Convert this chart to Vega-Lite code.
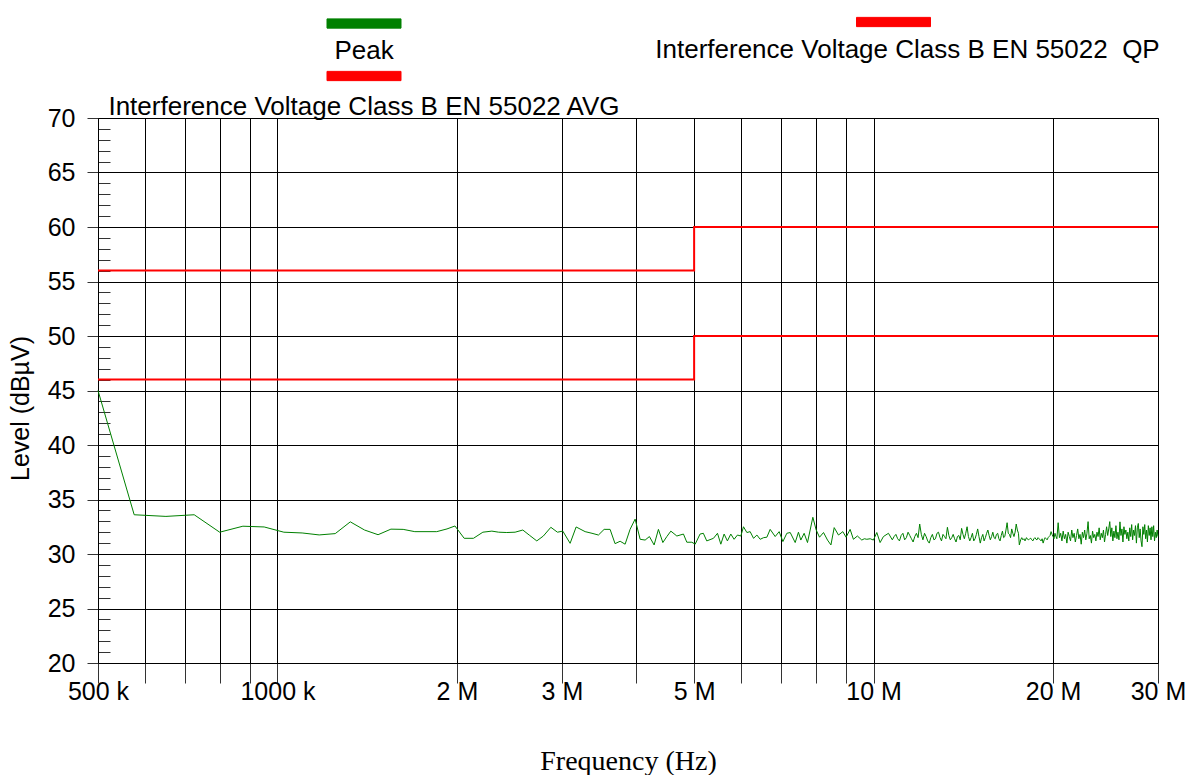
{
  "$schema": "https://vega.github.io/schema/vega-lite/v6.json",
  "width": 1060,
  "height": 545,
  "autosize": {"type": "none"},
  "padding": {"left": 98, "top": 118, "right": 34, "bottom": 112},
  "background": "white",
  "config": {
    "view": {"stroke": "black", "strokeWidth": 1},
    "font": "Liberation Sans",
    "axis": {"domainColor": "black", "labelColor": "black", "titleColor": "black", "labelFont": "Liberation Sans", "labelFontSize": 25, "titleFontWeight": "normal", "gridColor": "black", "gridWidth": 1, "tickColor": "#333", "tickWidth": 1}
  },
  "datasets": {
    "peak": [
      {"f":500,"dB":45.0},{"f":575,"dB":33.6},{"f":650,"dB":33.45},{"f":725,"dB":33.6},{"f":800,"dB":32.0},{"f":875,"dB":32.55},{"f":950,"dB":32.48},{"f":1025,"dB":32.0},{"f":1100,"dB":31.93},{"f":1175,"dB":31.75},{"f":1250,"dB":31.87},{"f":1325,"dB":32.95},{"f":1400,"dB":32.2},{"f":1475,"dB":31.77},{"f":1550,"dB":32.28},{"f":1625,"dB":32.26},{"f":1700,"dB":32.05},{"f":1775,"dB":32.05},{"f":1850,"dB":32.05},{"f":1925,"dB":32.3},{"f":1985,"dB":32.57},
      {"f":2057,"dB":31.44},{"f":2132,"dB":31.44},{"f":2211,"dB":32.0},{"f":2289,"dB":32.1},{"f":2350,"dB":32.0},{"f":2425,"dB":31.97},{"f":2504,"dB":32.0},{"f":2580,"dB":32.2},{"f":2650,"dB":31.7},{"f":2723,"dB":31.2},{"f":2793,"dB":31.65},{"f":2875,"dB":32.45},{"f":2949,"dB":32.0},{"f":3011,"dB":32.1},{"f":3097,"dB":30.98},{"f":3170,"dB":32.48},{"f":3282,"dB":32.05},{"f":3370,"dB":31.9},{"f":3455,"dB":31.74},{"f":3532,"dB":32.26},{"f":3614,"dB":32.26},{"f":3684,"dB":30.95},{"f":3757,"dB":31.17},{"f":3830,"dB":30.9},{"f":3904,"dB":32.26},{"f":3981,"dB":33.2},{"f":4059,"dB":31.35},{"f":4138,"dB":31.28},{"f":4207,"dB":31.6},{"f":4284,"dB":30.83},{"f":4356,"dB":32.26},{"f":4431,"dB":31.05},{"f":4500,"dB":31.6},{"f":4570,"dB":32.1},{"f":4677,"dB":31.65},{"f":4798,"dB":31.83},{"f":4861,"dB":31.08},{"f":4956,"dB":31.08},{"f":5020,"dB":30.9},{"f":5116,"dB":31.83},{"f":5181,"dB":31.9},{"f":5250,"dB":31.2},{"f":5388,"dB":31.44},{"f":5472,"dB":31.9},{"f":5543,"dB":30.9},{"f":5614,"dB":31.83},{"f":5686,"dB":31.2},{"f":5761,"dB":31.83},{"f":5835,"dB":31.35},{"f":5911,"dB":31.74},{"f":5989,"dB":31.65},{"f":6050,"dB":32.5},{"f":6130,"dB":31.97},{"f":6208,"dB":32.05},{"f":6290,"dB":31.44},{"f":6372,"dB":31.74},{"f":6453,"dB":31.35},{"f":6540,"dB":31.5},{"f":6622,"dB":31.54},{"f":6707,"dB":32.26},{"f":6838,"dB":31.6},{"f":6944,"dB":32.05},{"f":7045,"dB":31.14},{"f":7153,"dB":31.9},{"f":7247,"dB":31.97},{"f":7388,"dB":31.05},{"f":7481,"dB":32.0},{"f":7550,"dB":31.28},{"f":7648,"dB":31.9},{"f":7747,"dB":31.05},{"f":7909,"dB":33.37},{"f":8012,"dB":32.2},{"f":8115,"dB":31.54},{"f":8242,"dB":31.97},{"f":8370,"dB":31.28},{"f":8481,"dB":30.83},{"f":8589,"dB":32.42},{"f":8732,"dB":31.74},{"f":8880,"dB":32.05},{"f":8993,"dB":31.54},{"f":9134,"dB":32.26},{"f":9251,"dB":31.35},{"f":9394,"dB":31.65},{"f":9555,"dB":31.28},{"f":9650,"dB":31.4},{"f":9742,"dB":31.35},{"f":9870,"dB":31.4},{"f":9993,"dB":31.28},{"f":10125,"dB":31.97},{"f":10255,"dB":31.05},{"f":10388,"dB":31.6},{"f":10592,"dB":31.9},
      {"f":10750,"dB":31.3},{"f":10825,"dB":31.6},{"f":10900,"dB":31.8},{"f":10975,"dB":31.4},{"f":11050,"dB":31.2},{"f":11125,"dB":31.7},{"f":11200,"dB":31.9},{"f":11275,"dB":31.3},{"f":11350,"dB":31.5},{"f":11425,"dB":32.0},{"f":11500,"dB":31.7},{"f":11575,"dB":31.4},{"f":11650,"dB":31.1},{"f":11725,"dB":31.6},{"f":11800,"dB":31.9},{"f":11875,"dB":31.5},{"f":11950,"dB":32.75},{"f":12025,"dB":31.8},{"f":12100,"dB":31.3},{"f":12175,"dB":31.9},{"f":12250,"dB":31.6},{"f":12325,"dB":31.2},{"f":12400,"dB":31.0},{"f":12475,"dB":31.5},{"f":12550,"dB":31.8},{"f":12625,"dB":31.3},{"f":12700,"dB":31.4},{"f":12775,"dB":31.9},{"f":12850,"dB":32.0},{"f":12925,"dB":31.5},{"f":13000,"dB":31.2},{"f":13075,"dB":31.8},{"f":13150,"dB":31.6},{"f":13225,"dB":31.4},{"f":13300,"dB":32.45},{"f":13375,"dB":31.7},{"f":13450,"dB":31.3},{"f":13525,"dB":31.5},{"f":13600,"dB":31.8},{"f":13675,"dB":31.4},{"f":13750,"dB":31.1},{"f":13825,"dB":31.6},{"f":13900,"dB":31.7},{"f":13975,"dB":31.3},{"f":14050,"dB":32.35},{"f":14125,"dB":31.8},{"f":14200,"dB":31.4},{"f":14275,"dB":31.9},{"f":14350,"dB":32.5},{"f":14425,"dB":31.6},{"f":14500,"dB":31.2},{"f":14575,"dB":31.5},{"f":14650,"dB":31.9},{"f":14725,"dB":31.2},{"f":14800,"dB":31.4},{"f":14875,"dB":31.8},{"f":14950,"dB":32.3},{"f":15025,"dB":31.6},{"f":15100,"dB":31.0},{"f":15175,"dB":31.5},{"f":15250,"dB":31.8},{"f":15325,"dB":31.2},{"f":15400,"dB":31.5},{"f":15475,"dB":31.9},{"f":15550,"dB":32.2},{"f":15625,"dB":31.7},{"f":15700,"dB":31.3},{"f":15775,"dB":31.6},{"f":15850,"dB":32.0},{"f":15925,"dB":31.5},{"f":16000,"dB":31.4},{"f":16075,"dB":31.8},{"f":16150,"dB":31.9},{"f":16225,"dB":31.4},{"f":16300,"dB":31.2},{"f":16375,"dB":31.7},{"f":16450,"dB":32.1},{"f":16525,"dB":31.5},{"f":16600,"dB":31.6},{"f":16675,"dB":32.2},{"f":16750,"dB":32.87},{"f":16825,"dB":31.9},{"f":16900,"dB":31.8},{"f":16975,"dB":31.5},{"f":17050,"dB":32.3},{"f":17125,"dB":31.9},{"f":17200,"dB":31.6},{"f":17275,"dB":32.0},{"f":17350,"dB":32.75},{"f":17425,"dB":32.2},{"f":17500,"dB":31.9},{"f":17560,"dB":30.83},{"f":17650,"dB":31.3},{"f":17725,"dB":31.5},{"f":17800,"dB":31.3},{"f":17875,"dB":31.4},{"f":17950,"dB":31.2},{"f":18050,"dB":31.5},{"f":18125,"dB":31.35},{"f":18200,"dB":31.3},{"f":18275,"dB":31.4},{"f":18350,"dB":31.45},{"f":18425,"dB":31.3},{"f":18500,"dB":31.2},{"f":18575,"dB":31.4},{"f":18650,"dB":31.5},{"f":18725,"dB":31.35},{"f":18800,"dB":31.3},{"f":18875,"dB":31.5},{"f":18950,"dB":31.4},{"f":19025,"dB":31.3},{"f":19100,"dB":31.2},{"f":19175,"dB":31.4},{"f":19250,"dB":31.0},{"f":19325,"dB":31.3},{"f":19400,"dB":31.5},{"f":19475,"dB":31.4},{"f":19550,"dB":31.3},{"f":19625,"dB":31.5},{"f":19700,"dB":31.6},{"f":19775,"dB":31.7},{"f":19850,"dB":32.05},{"f":19925,"dB":31.8},{"f":20000,"dB":31.6},{"f":20075,"dB":31.4},{"f":20150,"dB":31.9},{"f":20225,"dB":31.6},{"f":20300,"dB":31.4},{"f":20400,"dB":32.87},
      {"f":20500,"dB":31.5},{"f":20600,"dB":31.9},{"f":20700,"dB":31.2},{"f":20800,"dB":32.1},{"f":20900,"dB":31.4},{"f":21000,"dB":31.8},{"f":21100,"dB":31.0},{"f":21200,"dB":32.0},{"f":21300,"dB":31.6},{"f":21400,"dB":31.2},{"f":21500,"dB":32.2},{"f":21600,"dB":31.5},{"f":21700,"dB":31.9},{"f":21800,"dB":31.1},{"f":21900,"dB":31.7},{"f":22000,"dB":32.3},{"f":22100,"dB":31.4},{"f":22200,"dB":31.8},{"f":22300,"dB":30.9},{"f":22400,"dB":32.0},{"f":22500,"dB":31.5},{"f":22600,"dB":32.2},{"f":22700,"dB":31.3},{"f":22800,"dB":31.9},{"f":22900,"dB":32.97},{"f":23000,"dB":31.4},{"f":23100,"dB":31.7},{"f":23200,"dB":31.0},{"f":23300,"dB":32.1},{"f":23400,"dB":31.5},{"f":23500,"dB":31.8},{"f":23600,"dB":31.2},{"f":23700,"dB":32.0},{"f":23800,"dB":31.6},{"f":23900,"dB":32.4},{"f":24000,"dB":31.3},{"f":24100,"dB":31.9},{"f":24200,"dB":31.5},{"f":24300,"dB":32.2},{"f":24400,"dB":31.1},{"f":24500,"dB":31.8},{"f":24600,"dB":32.5},{"f":24700,"dB":31.7},{"f":24800,"dB":32.3},{"f":24900,"dB":32.97},{"f":25000,"dB":31.6},{"f":25100,"dB":32.4},{"f":25200,"dB":31.2},{"f":25300,"dB":32.1},{"f":25400,"dB":31.5},{"f":25500,"dB":32.6},{"f":25600,"dB":31.4},{"f":25700,"dB":32.0},{"f":25800,"dB":31.3},{"f":25900,"dB":32.95},{"f":26000,"dB":31.7},{"f":26100,"dB":32.3},{"f":26200,"dB":31.1},{"f":26300,"dB":32.5},{"f":26400,"dB":31.8},{"f":26500,"dB":32.2},{"f":26600,"dB":31.4},{"f":26700,"dB":32.0},{"f":26800,"dB":31.2},{"f":26900,"dB":32.4},{"f":27000,"dB":31.6},{"f":27100,"dB":32.7},{"f":27200,"dB":31.3},{"f":27300,"dB":32.2},{"f":27400,"dB":31.7},{"f":27500,"dB":32.6},{"f":27600,"dB":31.0},{"f":27700,"dB":32.4},{"f":27800,"dB":32.8},{"f":27900,"dB":31.5},{"f":28000,"dB":32.3},{"f":28100,"dB":31.2},{"f":28200,"dB":30.67},{"f":28300,"dB":32.5},{"f":28400,"dB":31.8},{"f":28500,"dB":32.7},{"f":28600,"dB":31.4},{"f":28700,"dB":32.2},{"f":28800,"dB":31.1},{"f":28900,"dB":32.6},{"f":29000,"dB":31.7},{"f":29100,"dB":32.4},{"f":29200,"dB":31.3},{"f":29300,"dB":32.5},{"f":29400,"dB":31.6},{"f":29500,"dB":32.6},{"f":29600,"dB":31.2},{"f":29700,"dB":32.0},{"f":29800,"dB":31.5},{"f":29900,"dB":32.2},{"f":30000,"dB":31.6}
    ],
    "limits": [
      {"series":"QP","i":0,"f":500,"dB":56},{"series":"QP","i":1,"f":5000,"dB":56},{"series":"QP","i":2,"f":5000,"dB":60},{"series":"QP","i":3,"f":30000,"dB":60},
      {"series":"AVG","i":0,"f":500,"dB":46},{"series":"AVG","i":1,"f":5000,"dB":46},{"series":"AVG","i":2,"f":5000,"dB":50},{"series":"AVG","i":3,"f":30000,"dB":50}
    ]
  },
  "encoding": {
    "x": {
      "field": "f", "type": "quantitative",
      "scale": {"type": "log", "domain": [500, 30000], "nice": false},
      "axis": {
        "values": [500,600,700,800,900,1000,2000,3000,4000,5000,6000,7000,8000,9000,10000,20000,30000],
        "labelExpr": "datum.value == 500 ? '500 k' : datum.value == 1000 ? '1000 k' : indexof([2000,3000,5000,10000,20000,30000], datum.value) >= 0 ? (datum.value/1000) + ' M' : ''",
        "tickSize": 20, "labelPadding": -4, "labelOverlap": false, "labelFlush": false, "labelBound": false,
        "grid": true,
        "title": "Frequency (Hz)", "titleFont": "Liberation Serif", "titleFontSize": 28, "titleY": 98, "titleBaseline": "middle"
      }
    },
    "y": {
      "field": "dB", "type": "quantitative",
      "scale": {"domain": [20, 70], "nice": false, "zero": false},
      "axis": {
        "values": [20,21,22,23,24,25,26,27,28,29,30,31,32,33,34,35,36,37,38,39,40,41,42,43,44,45,46,47,48,49,50,51,52,53,54,55,56,57,58,59,60,61,62,63,64,65,66,67,68,69,70],
        "labelExpr": "datum.value % 5 == 0 ? datum.label : ''",
        "tickSize": {"condition": {"test": "datum.value % 5 == 0", "value": 11}, "value": -12},
        "gridOpacity": {"condition": {"test": "datum.value % 5 == 0", "value": 1}, "value": 0},
        "grid": true, "labelPadding": 12, "labelOverlap": false, "labelFlush": false,
        "title": "Level (dBµV)", "titleFont": "Liberation Sans", "titleFontSize": 25, "titleX": -78, "titleY": 290, "titleBaseline": "middle"
      }
    }
  },
  "layer": [
    {
      "data": {"name": "peak"},
      "mark": {"type": "line", "strokeWidth": 1},
      "encoding": {
        "color": {"datum": "Peak", "scale": {"range": ["#008000"]},
          "legend": {"orient": "none", "legendX": 228.5, "legendY": -132, "padding": 0, "title": null,
            "symbolType": "M-1,-0.125H1V0.125H-1Z", "symbolSize": 5476, "symbolStrokeColor": "#555", "symbolStrokeWidth": 1, "symbolFillColor": "#008000", "labelFontSize": 26, "labelAlign": "center", "labelOffset": 0, "labelColor": "black", "labelLimit": 0,
            "encode": {"symbols": {"update": {"fill": {"value": "#008000"}, "stroke": {"value": "#555"}, "strokeWidth": {"value": 1}, "opacity": {"value": 1}}},
                       "labels": {"update": {"dx": {"value": -37.5}, "dy": {"value": 27}}}}}}
      }
    },
    {
      "data": {"name": "limits"},
      "transform": [{"filter": "datum.series == 'QP'"}],
      "mark": {"type": "line", "strokeWidth": 2},
      "encoding": {
        "order": {"field": "i"},
        "color": {"datum": "Interference Voltage Class B EN 55022  QP", "scale": {"range": ["#ff0000"]},
          "legend": {"orient": "none", "legendX": 758, "legendY": -133.5, "padding": 0, "title": null,
            "symbolType": "M-1,-0.125H1V0.125H-1Z", "symbolSize": 5476, "symbolStrokeColor": "#555", "symbolStrokeWidth": 1, "symbolFillColor": "#ff0000", "labelFontSize": 26, "labelAlign": "center", "labelOffset": 0, "labelColor": "black", "labelLimit": 0,
            "labelExpr": "replace(datum.label, '55022  QP', '55022\u00a0 QP')",
            "encode": {"symbols": {"update": {"fill": {"value": "#ff0000"}, "stroke": {"value": "#555"}, "strokeWidth": {"value": 1}, "opacity": {"value": 1}}},
                       "labels": {"update": {"dx": {"value": -23.5}, "dy": {"value": 28}}}}}}
      }
    },
    {
      "data": {"name": "limits"},
      "transform": [{"filter": "datum.series == 'AVG'"}],
      "mark": {"type": "line", "strokeWidth": 2},
      "encoding": {
        "order": {"field": "i"},
        "color": {"datum": "Interference Voltage Class B EN 55022 AVG", "scale": {"range": ["#ff0000"]},
          "legend": {"orient": "none", "legendX": 228.5, "legendY": -79.5, "padding": 0, "title": null,
            "symbolType": "M-1,-0.125H1V0.125H-1Z", "symbolSize": 5476, "symbolStrokeColor": "#555", "symbolStrokeWidth": 1, "symbolFillColor": "#ff0000", "labelFontSize": 26, "labelAlign": "center", "labelOffset": 0, "labelColor": "black", "labelLimit": 0,
            "encode": {"symbols": {"update": {"fill": {"value": "#ff0000"}, "stroke": {"value": "#555"}, "strokeWidth": {"value": 1}, "opacity": {"value": 1}}},
                       "labels": {"update": {"dx": {"value": -37.5}, "dy": {"value": 31}}}}}}
      }
    }
  ],
  "resolve": {"scale": {"color": "independent"}}
}
